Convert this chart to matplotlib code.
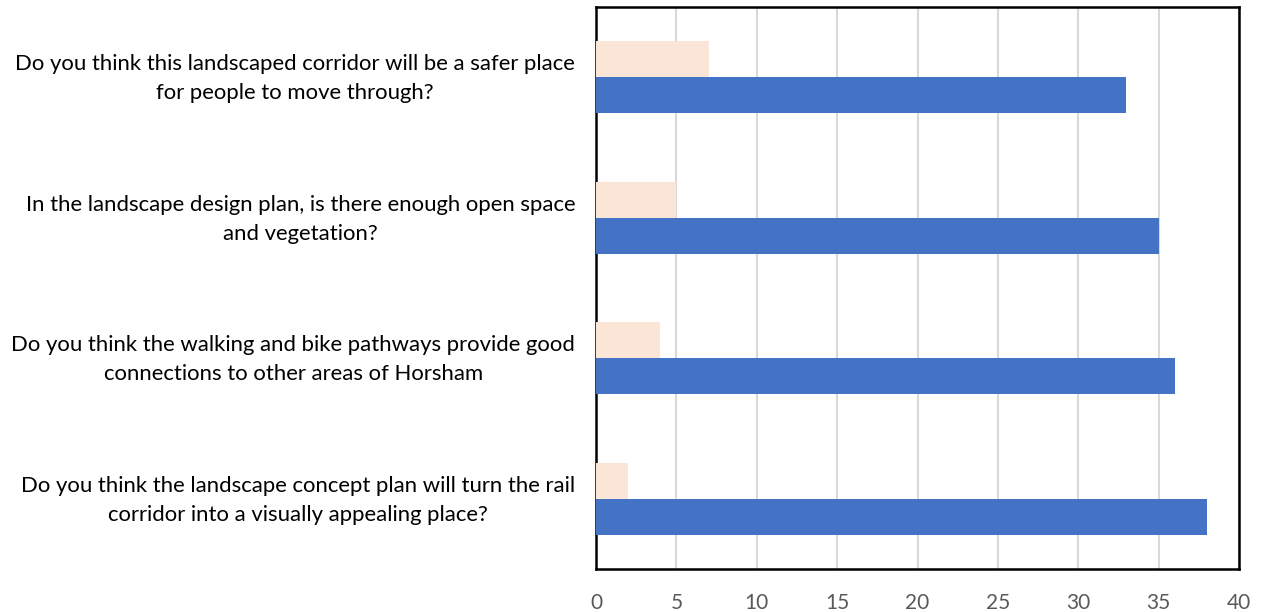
import matplotlib.pyplot as plt
import matplotlib.transforms as mtransforms
import numpy as np

plt.rcParams['font.family'] = ['Lato', 'DejaVu Sans']

# survey questions (top to bottom)
questions = [
    'Do you think this landscaped corridor will be a safer place\nfor people to move through?',
    'In the landscape design plan, is there enough open space\nand vegetation?',
    'Do you think the walking and bike pathways provide good\nconnections to other areas of Horsham',
    'Do you think the landscape concept plan will turn the rail\ncorridor into a visually appealing place?',
]
no_counts = [7, 5, 4, 2]
yes_counts = [33, 35, 36, 38]
x_ticks = [0, 5, 10, 15, 20, 25, 30, 35, 40]

fig = plt.figure(figsize=(12.66, 6.12), dpi=100)
ax = fig.add_axes([596 / 1266, 1 - 569 / 612, 643 / 1266, 562 / 612])

y = np.arange(len(questions))
h = 0.256
ax.barh(y - h / 2, no_counts, height=h, color='#FBE5D6', zorder=3)
ax.barh(y + h / 2, yes_counts, height=h, color='#4472C4', zorder=3)

ax.set_ylim(len(questions) - 0.5, -0.5)
ax.set_xlim(0, 40)
ax.set_xticks(x_ticks)
ax.set_xticklabels([str(t) for t in x_ticks], fontsize=15, color='#595959')
ax.set_yticks(y)
ax.set_yticklabels(questions, fontsize=15.9, color='#000000',
                   multialignment='center', linespacing=1.55)
ax.tick_params(axis='both', length=0)
ax.tick_params(axis='x', pad=17)
ax.tick_params(axis='y', pad=15)

# nudge the question labels up a little
shift = mtransforms.ScaledTranslation(0, 0.05, fig.dpi_scale_trans)
for lab in ax.get_yticklabels():
    lab.set_transform(lab.get_transform() + shift)

ax.grid(axis='x', color='#D9D9D9', linewidth=1.5, zorder=0)
for s in ax.spines.values():
    s.set_color('black')
    s.set_linewidth(1.8)

fig.savefig('out.png', dpi=100)
